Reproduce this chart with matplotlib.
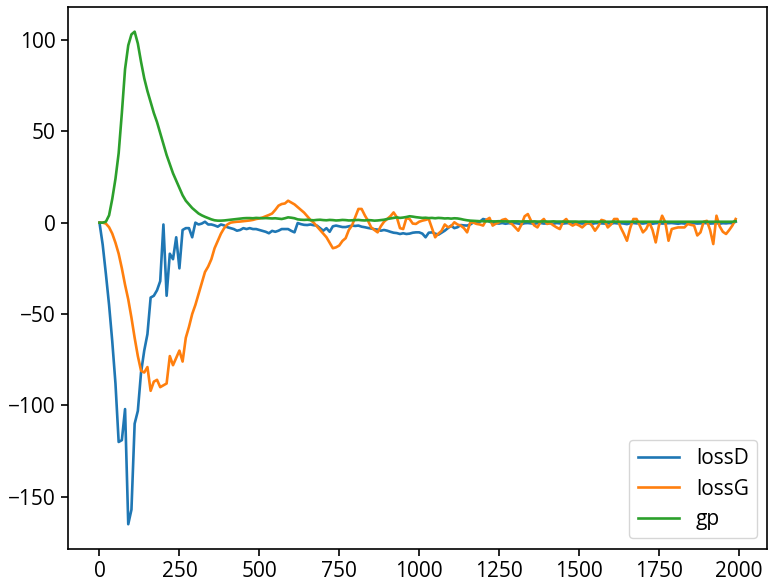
import numpy as np
import matplotlib
matplotlib.use("Agg")
import matplotlib.pyplot as plt

# -----------------------------
# Data (one value every 10 iterations)
# -----------------------------
steps = np.arange(0, 2000, 10)

lossD = [
    0, -12, -28, -45, -65, -88, -120, -119, -102, -165,
    -157, -110, -103, -82, -70, -61, -41, -40, -37, -32,
    -1, -40, -17, -20, -8, -25, -4, -3, -3, -8,
    0, -1, -0.5, 0.5, -1, -1, -1.5, -2.2, -1, -1.5,
    -2.5, -3, -3.5, -4.4, -4, -3, -3.5, -3, -3.5, -3.5,
    -4, -4.5, -5, -5.8, -4.5, -5, -4.4, -3.5, -3.5, -3.5,
    -4.5, -5.3, -0.2, -0.8, -1.2, -1.3, -1, -1.4, -1.6, -3,
    -4.4, -3, -5, -2, -1.6, -2, -2.4, -2.4, -2, -1.6,
    -1.8, -1.6, -2.2, -2.5, -2.9, -3.2, -3.6, -3.8, -4.4, -4,
    -4.4, -5, -5.5, -5.7, -6.2, -5.8, -6.2, -6, -5.5, -5.3,
    -5.3, -6, -8, -5.5, -5.3, -6, -6.6, -5.5, -4.4, -3,
    -1.6, -3, -2.5, -1.3, -1.5, -1.6, -1, 0.2, -0.3, 0.5,
    2, 1.5, 0.5, 0, -0.3, -0.5, -0.2, -0.6, -0.3, -0.4,
    -0.2, -0.5, -0.8, -0.3, -0.2, -0.4, -0.6, -0.3, -0.2, -0.5,
    -0.4, -0.3, -0.6, -0.2, -0.4, -0.5, -0.3, -0.2, -0.6, -0.4,
    -0.3, -0.5, -0.2, -0.4, -0.7, -0.3, -0.2, -0.4, -0.5, -0.3,
    -0.6, -0.2, -0.4, -0.3, -0.5, -0.8, -0.3, -0.2, -0.4, -0.3,
    -0.5, -0.2, -0.4, -0.6, -0.3, -0.2, -0.5, -0.4, -0.3, -0.2,
    -0.4, -0.6, -0.3, -0.5, -0.2, -0.4, -0.3, -0.5, -0.4, -0.2,
    -0.3, -0.5, -0.4, -0.2, -0.6, -0.3, -0.4, -0.2, -0.3, 0.5,
]

lossG = [
    0, 0, -0.5, -2.5, -6, -11, -17, -25, -34, -42,
    -52, -63, -73, -81, -82, -79, -92, -87, -86, -90,
    -89, -88, -73, -78, -74, -70, -76, -63, -57, -50,
    -45, -39, -33, -27, -24, -20, -14, -10, -6, -3,
    -1, 0, 0.3, 0.5, 0.6, 0.8, 1, 1.2, 1.5, 2,
    2.3, 2.8, 3.5, 4.2, 5, 7, 9.3, 10.2, 10.5, 12,
    11, 10, 8.5, 7, 5.5, 3.5, 1.5, 0, -2, -4,
    -6, -8, -11, -14, -13.5, -12.5, -10, -8.5, -4, -1.5,
    3, 7.5, 7.5, 4, 1, -2.6, -4, -5.3, -2, 0.5,
    2, 3.5, 5.6, 3, -3, -3.5, 2.5, 2, -0.5, -0.7,
    0.5, 1.1, 1.5, 2, -3, -8, -6, -4.5, -1, -2.5,
    -2, 0.2, -1, -1.6, -3, -5.3, 0.2, 0, -0.7, -1,
    -1.6, 1.5, 2.6, -1.6, -0.5, 0.2, 1.5, 2, 0.5, -0.7,
    -2.5, -4.4, -1, 3.5, 4.7, 1, -1.5, -2.6, 0.5, 2,
    -0.7, -0.2, -1.5, -2.6, -3.5, 0.5, 2, -0.5, -1.6, -0.7,
    -1.5, -2.6, -1, 0.2, -1.5, -4.4, -2, 1.5, 1, -2.6,
    -1, 2, 2, -2.5, -6, -9.9, -3, 2, 2, -1.5,
    -5.3, -3.5, 0.2, -4, -10.8, -1.6, 3.8, 0.2, -9.9, -3.5,
    -3, -2.6, -2.6, -2.6, -0.7, -1.2, -1.6, -7, -5.3, 0.5,
    1, -4, -11.7, 3.8, -2, -5, -6.2, -4, -1.5, 2,
]

gp = [
    0, 0, 0.5, 4, 13, 24, 38, 60, 84, 97,
    103, 104.5, 98, 88, 79, 72, 66, 60, 55, 49,
    43, 37, 32, 27, 23, 19, 15, 12, 10, 8,
    6.5, 5, 4, 3.2, 2.5, 1.8, 1.3, 1.1, 1.1, 1.2,
    1.4, 1.6, 1.8, 2.0, 2.2, 2.4, 2.5, 2.5, 2.4, 2.6,
    2.5, 2.4, 2.5, 2.4, 2.3, 2.4, 2.2, 2.0, 2.4, 2.9,
    2.7, 2.4, 1.8, 1.6, 1.5, 1.6, 1.4, 1.3, 1.5, 1.6,
    1.4, 1.3, 1.5, 1.4, 1.2, 1.3, 1.5, 1.4, 1.2, 1.3,
    1.4, 1.5, 1.3, 1.2, 1.4, 1.3, 1.1, 1.2, 1.4, 1.6,
    2.0, 2.3, 2.6, 2.9, 2.6, 2.8, 3.1, 3.5, 3.3, 3.0,
    2.8, 2.6, 2.7, 2.5, 2.6, 2.4, 2.6, 2.5, 2.3, 2.4,
    2.2, 2.4, 2.3, 2.0, 1.6, 1.3, 1.1, 1.0, 0.9, 0.8,
    0.8, 0.7, 0.8, 0.7, 0.7, 0.8, 0.7, 0.7, 0.6, 0.7,
    0.7, 0.7, 0.6, 0.7, 0.7, 0.6, 0.7, 0.6, 0.6, 0.7,
    0.6, 0.6, 0.7, 0.6, 0.6, 0.6, 0.5, 0.6, 0.6, 0.6,
    0.5, 0.6, 0.6, 0.5, 0.6, 0.5, 0.5, 0.6, 0.5, 0.5,
    0.5, 0.6, 0.5, 0.5, 0.5, 0.5, 0.5, 0.5, 0.5, 0.5,
    0.5, 0.5, 0.5, 0.5, 0.5, 0.5, 0.5, 0.5, 0.5, 0.5,
    0.5, 0.5, 0.5, 0.5, 0.5, 0.5, 0.5, 0.5, 0.5, 0.5,
    0.5, 0.5, 0.5, 0.5, 0.5, 0.5, 0.5, 0.5, 0.5, 0.8,
]

labels = ["lossD", "lossG", "gp"]


def main():
    plt.rcParams["font.family"] = ["Open Sans", "DejaVu Sans"]
    plt.rcParams["font.size"] = 15

    fig = plt.figure(figsize=(7.69, 5.87), dpi=100)
    ax = fig.add_axes([0.088, 0.065, 0.91, 0.923])

    for series, name in zip([lossD, lossG, gp], labels):
        ax.plot(steps, series, lw=1.9, label=name)

    ax.set_yticks([-150, -100, -50, 0, 50, 100])
    ax.set_xticks(np.arange(0, 2001, 250))
    for sp in ax.spines.values():
        sp.set_linewidth(1.2)
    ax.tick_params(width=1.2, length=5)

    ax.legend(loc="lower right", fontsize=15, labelspacing=0.45)
    fig.savefig("out.png", dpi=100)


if __name__ == "__main__":
    main()
